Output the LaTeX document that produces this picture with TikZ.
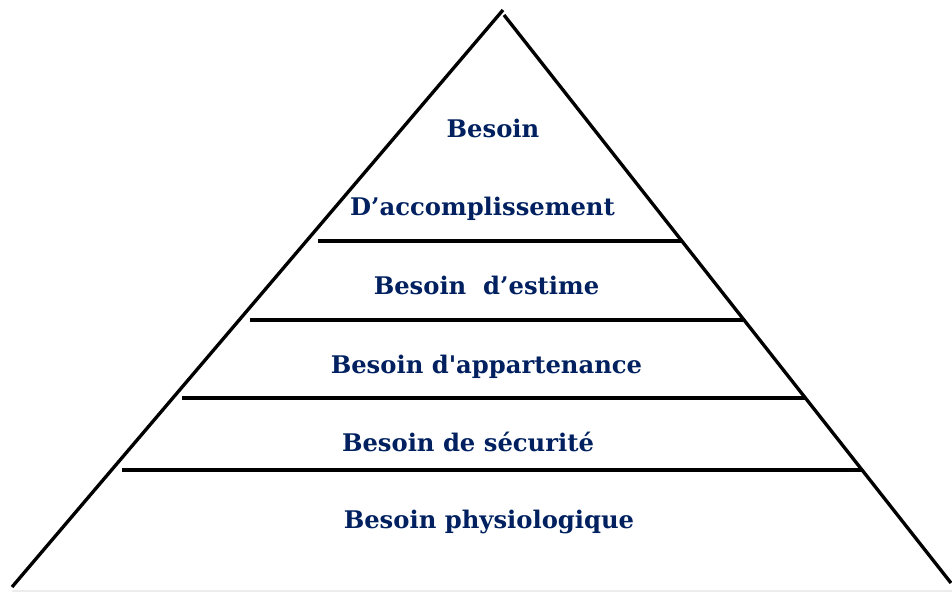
\documentclass[tikz,border=0pt]{standalone}
\usepackage{fontspec}
\setmainfont{DejaVu Serif}
\definecolor{bleufonce}{RGB}{0,32,96}
\tikzset{niveau/.style={anchor=base,inner sep=0pt,text=bleufonce,font=\fontsize{13.8}{16}\selectfont\bfseries}}
\begin{document}
\begin{tikzpicture}
\useasboundingbox (0,0) rectangle (19.04,11.88);
%\draw[step=0.5cm,gray,very thin] (0,0) grid (19,11.8); %background grid
\coordinate (sommetg) at (10.06,11.68);
\coordinate (sommetd) at (10.08,11.58);
\coordinate (baseg) at (0.24,0.14);
\coordinate (based) at (19.02,0.22);
\draw[line width=1.9pt] (baseg) -- (sommetg) ; 
\draw[line width=1.9pt] (sommetd) -- (based) ; 
\draw[line width=1.9pt] (6.36,7.06) -- (13.62,7.06) ; 
\draw[line width=1.9pt] (5.00,5.48) -- (14.86,5.48) ; 
\draw[line width=1.9pt] (3.64,3.92) -- (16.12,3.92) ; 
\draw[line width=1.9pt] (2.44,2.48) -- (17.24,2.48) ; 
\draw[gray!15, line width=0.6pt] (0.24,0.06) -- (19.04,0.06) ; 
\node[niveau] (accomp1) at (9.86,9.14) {Besoin};
\node[niveau] (accomp2) at (9.65,7.58) {D’accomplissement};
\node[niveau] (estime) at (9.73,5.99) {Besoin\ \ d’estime};
\node[niveau] (appart) at (9.73,4.42) {Besoin d\textquotesingle appartenance};
\node[niveau] (secu) at (9.36,2.86) {Besoin de sécurité};
\node[niveau] (physio) at (9.78,1.32) {Besoin physiologique};
\end{tikzpicture}
\end{document}
